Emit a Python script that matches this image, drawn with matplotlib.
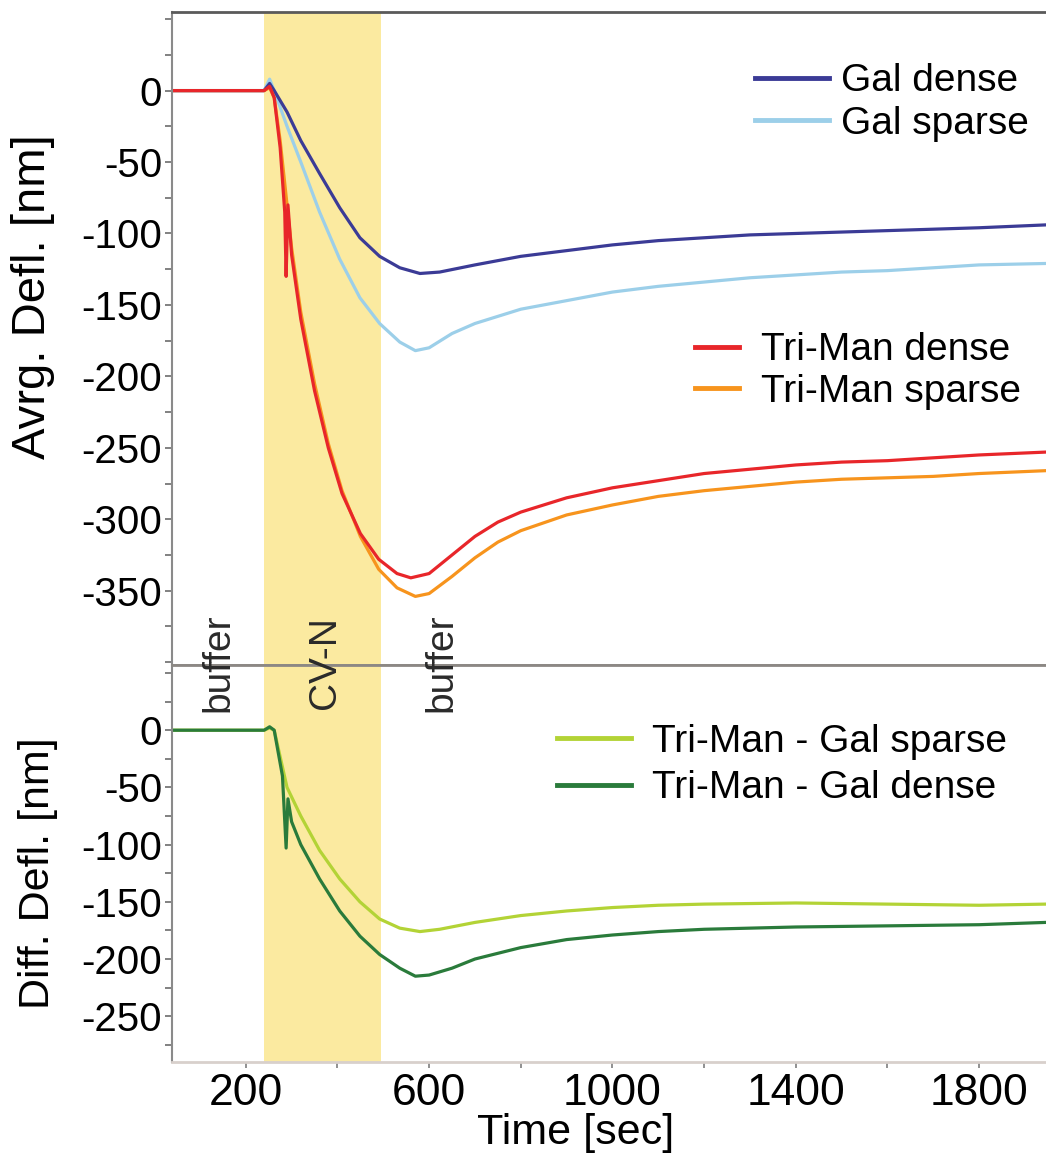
import numpy as np
import matplotlib
matplotlib.use("Agg")
import matplotlib.pyplot as plt
from matplotlib.ticker import FixedLocator, MultipleLocator
from matplotlib.transforms import blended_transform_factory

plt.rcParams['font.family'] = ['Liberation Sans', 'DejaVu Sans']
plt.rcParams['axes.unicode_minus'] = False

# ---- data (time in sec, deflection in nm) ----
t_gal_dense = [40, 240, 252, 262, 290, 320, 361, 405, 449, 492, 536, 580, 623, 700, 800, 900,
               1000, 1100, 1200, 1300, 1400, 1500, 1600, 1700, 1800, 1945]
gal_dense = [0, 0, 5, 0, -15, -35, -58, -82, -103, -116, -124, -128, -127, -122, -116, -112,
             -108, -105, -103, -101, -100, -99, -98, -97, -96, -94]

t_gal_sparse = [40, 240, 252, 262, 290, 320, 361, 405, 449, 492, 536, 570, 600, 650, 700, 800,
                900, 1000, 1100, 1200, 1300, 1400, 1500, 1600, 1700, 1800, 1945]
gal_sparse = [0, 0, 8, 0, -25, -50, -85, -118, -145, -163, -176, -182, -180, -170, -163, -153,
              -147, -141, -137, -134, -131, -129, -127, -126, -124, -122, -121]

t_tri_dense = [40, 240, 252, 262, 275, 285, 288, 292, 300, 320, 350, 380, 410, 450, 490, 530,
               560, 600, 650, 700, 750, 800, 900, 1000, 1100, 1200, 1300, 1400, 1500, 1600,
               1700, 1800, 1945]
tri_dense = [0, 0, 3, -5, -40, -85, -130, -80, -115, -160, -210, -250, -282, -310, -328, -338,
             -341, -338, -325, -312, -302, -295, -285, -278, -273, -268, -265, -262, -260, -259,
             -257, -255, -253]

t_tri_sparse = [40, 240, 252, 262, 275, 290, 300, 320, 350, 380, 410, 450, 490, 530, 570, 600,
                650, 700, 750, 800, 900, 1000, 1100, 1200, 1300, 1400, 1500, 1600, 1700, 1800, 1945]
tri_sparse = [0, 0, 2, -5, -35, -80, -110, -155, -205, -247, -280, -312, -335, -348, -354, -352,
              -340, -327, -316, -308, -297, -290, -284, -280, -277, -274, -272, -271, -270, -268, -266]

t_diff_sparse = [40, 240, 252, 262, 290, 320, 361, 405, 449, 492, 536, 580, 623, 700, 800, 900,
                 1000, 1100, 1200, 1400, 1600, 1800, 1945]
diff_sparse = [0, 0, 2, 0, -50, -75, -105, -130, -150, -165, -173, -176, -174, -168, -162, -158,
               -155, -153, -152, -151, -152, -153, -152]

t_diff_dense = [40, 240, 252, 262, 280, 288, 292, 300, 320, 361, 405, 449, 492, 536, 570, 600,
                650, 700, 800, 900, 1000, 1100, 1200, 1400, 1600, 1800, 1945]
diff_dense = [0, 0, 3, 0, -40, -103, -60, -80, -100, -130, -158, -180, -196, -208, -215, -214,
              -208, -200, -190, -183, -179, -176, -174, -172, -171, -170, -168]

cvn_start, cvn_end = 240, 495
phase_labels = ["buffer", "CV-N", "buffer"]
phase_pos = [141, 372, 627]

c_gal_dense = '#3b3b96'
c_gal_sparse = '#9ccfe9'
c_tri_dense = '#e8262a'
c_tri_sparse = '#f7941d'
c_diff_sparse = '#b3d336'
c_diff_dense = '#2a7b3b'
band = '#fbeaa0'

fig = plt.figure(figsize=(10.46, 11.58), dpi=100)
L, W = 172 / 1046, 874 / 1046
ax1 = fig.add_axes([L, 1 - 665 / 1158, W, 653 / 1158])
ax2 = fig.add_axes([L, 1 - 1062 / 1158, W, 397 / 1158], sharex=ax1)

for ax in (ax1, ax2):
    ax.axvspan(cvn_start, cvn_end, color=band, lw=0, zorder=0)

lw = 2.3
ax1.plot(t_gal_sparse, gal_sparse, color=c_gal_sparse, lw=lw)
ax1.plot(t_gal_dense, gal_dense, color=c_gal_dense, lw=lw)
ax1.plot(t_tri_sparse, tri_sparse, color=c_tri_sparse, lw=lw)
ax1.plot(t_tri_dense, tri_dense, color=c_tri_dense, lw=lw)

ax2.plot(t_diff_sparse, diff_sparse, color=c_diff_sparse, lw=lw)
ax2.plot(t_diff_dense, diff_dense, color=c_diff_dense, lw=lw)

ax1.set_xlim(39, 1946)
ax1.set_ylim(-402, 55)
ax2.set_ylim(-290, 57)

ax1.yaxis.set_major_locator(FixedLocator(range(-350, 1, 50)))
ax1.yaxis.set_minor_locator(MultipleLocator(25))
ax2.yaxis.set_major_locator(FixedLocator(range(-250, 1, 50)))
ax2.yaxis.set_minor_locator(MultipleLocator(25))
ax2.xaxis.set_major_locator(FixedLocator([200, 600, 1000, 1400, 1800]))
ax2.xaxis.set_minor_locator(MultipleLocator(200))

for ax in (ax1, ax2):
    ax.tick_params(axis='y', which='both', direction='out', length=5, width=1.3,
                   color='#777777', labelsize=29, pad=2)
    ax.spines['right'].set_visible(False)
    ax.spines['left'].set_color('#8a8a8a')
    ax.spines['left'].set_linewidth(1.5)
ax1.tick_params(axis='x', which='both', bottom=False, labelbottom=False)
ax2.tick_params(axis='x', which='both', direction='out', length=4, width=1.3,
                color='#888888', labelsize=32, pad=4)

ax1.spines['top'].set_color('#5a5a5a')
ax1.spines['top'].set_linewidth(2)
ax1.spines['bottom'].set_color('#8c8884')
ax1.spines['bottom'].set_linewidth(2)
# divider between the panels
ax2.spines['top'].set_color('#8c8884')
ax2.spines['top'].set_linewidth(2)
ax2.spines['bottom'].set_color('#d8d0cc')
ax2.spines['bottom'].set_linewidth(2)

ax1.set_ylabel("Avrg. Defl. [nm]", fontsize=34)
ax1.yaxis.set_label_coords(-0.134, 0.5636)
ax2.set_ylabel("Diff. Defl. [nm]", fontsize=31)
ax2.yaxis.set_label_coords(-0.131, 0.476)
ax2.set_xlabel("Time [sec]", fontsize=31)
ax2.xaxis.set_label_coords(0.462, -0.128)

# phase labels straddle both panels, so draw them on the figure
trans = blended_transform_factory(ax1.transData, fig.transFigure)
for lab, x in zip(phase_labels, phase_pos):
    fig.text(x, 1 - 663 / 1158, lab, transform=trans, rotation=90, ha='center', va='center',
             fontsize=28, color='#2a2a2a', zorder=5)

leg_kw = dict(frameon=False, fontsize=28, borderpad=0, borderaxespad=0)
h1 = ax1.plot([], [], color=c_gal_dense, lw=3.5)[0]
h2 = ax1.plot([], [], color=c_gal_sparse, lw=3.5)[0]
leg1 = ax1.legend([h1, h2], ["Gal dense", "Gal sparse"], loc='center left',
                  bbox_to_anchor=(0.667, 0.861), handlelength=1.9, handletextpad=0.3,
                  labelspacing=0.17, **leg_kw)
ax1.add_artist(leg1)
h3 = ax1.plot([], [], color=c_tri_dense, lw=3.5)[0]
h4 = ax1.plot([], [], color=c_tri_sparse, lw=3.5)[0]
ax1.legend([h3, h4], ["Tri-Man dense", "Tri-Man sparse"], loc='center left',
           bbox_to_anchor=(0.598, 0.450), handlelength=1.15, handletextpad=0.55,
           labelspacing=0.15, **leg_kw)

h5 = ax2.plot([], [], color=c_diff_sparse, lw=3.5)[0]
h6 = ax2.plot([], [], color=c_diff_dense, lw=3.5)[0]
ax2.legend([h5, h6], ["Tri-Man - Gal sparse", "Tri-Man - Gal dense"], loc='center left',
           bbox_to_anchor=((557 - 172) / 874, 0.748), handlelength=1.9, handletextpad=0.55,
           labelspacing=0.27, **leg_kw)

fig.savefig("out.png", dpi=100)
